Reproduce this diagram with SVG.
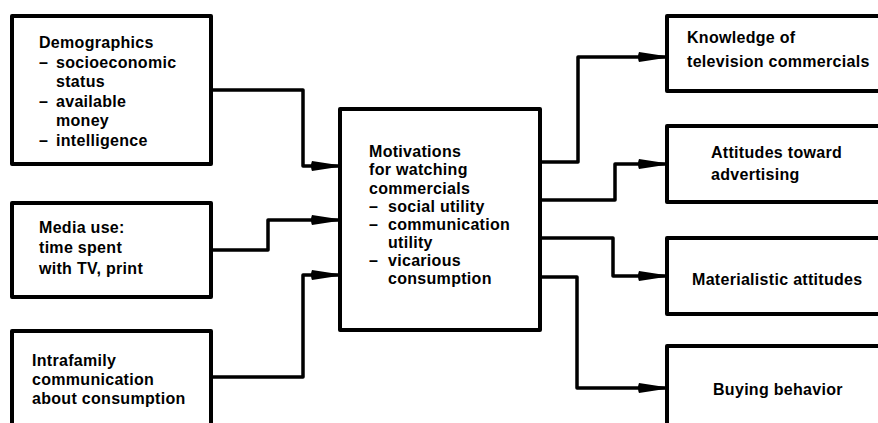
<svg xmlns="http://www.w3.org/2000/svg" width="878" height="423" viewBox="0 0 878 423">
<defs>
<style>
.box{fill:#fff;stroke:#000;stroke-width:4;stroke-linejoin:round}
.con{fill:none;stroke:#000;stroke-width:3.5;stroke-linejoin:round}
text{font-family:"Liberation Sans",Arial,sans-serif;font-weight:bold;font-size:16px;letter-spacing:0.3px;fill:#000}
</style>
<marker id="ah" markerUnits="userSpaceOnUse" viewBox="-27 -6 28 12" refX="0" refY="0" markerWidth="28" markerHeight="12" orient="auto">
<path d="M-26,-5 L0,-1 L0,1 L-26,5 Q-28,0 -26,-5 z" fill="#000"/>
</marker>
</defs>
<rect width="878" height="423" fill="#fff"/>
<g id="connectors">
<path class="con" d="M211,90 H303 V166 H338" marker-end="url(#ah)"/>
<path class="con" d="M211,250 H268 V220 H338" marker-end="url(#ah)"/>
<path class="con" d="M211,377 H303 V275 H338" marker-end="url(#ah)"/>
<path class="con" d="M540,162 H578 V57 H665" marker-end="url(#ah)"/>
<path class="con" d="M540,200 H615 V164 H665" marker-end="url(#ah)"/>
<path class="con" d="M540,238 H613 V276 H665" marker-end="url(#ah)"/>
<path class="con" d="M540,277 H577 V388 H665" marker-end="url(#ah)"/>
</g>
<g id="demographics">
<rect class="box" x="12" y="16" width="199" height="148"/>
<text x="39" y="48">Demographics</text>
<text x="39" y="68">– <tspan x="56">socioeconomic</tspan></text>
<text x="56" y="87">status</text>
<text x="39" y="107">– <tspan x="56">available</tspan></text>
<text x="56" y="126">money</text>
<text x="39" y="146">– <tspan x="56">intelligence</tspan></text>
</g>
<g id="media-use">
<rect class="box" x="12" y="203" width="199" height="94"/>
<text x="39" y="233">Media use:</text>
<text x="39" y="253">time spent</text>
<text x="39" y="274">with TV, print</text>
</g>
<g id="intrafamily">
<rect class="box" x="12" y="331" width="199" height="110"/>
<text x="32" y="366">Intrafamily</text>
<text x="32" y="385">communication</text>
<text x="32" y="404">about consumption</text>
</g>
<g id="motivations">
<rect class="box" x="340" y="109" width="200" height="221"/>
<text x="369" y="157">Motivations</text>
<text x="369" y="175">for watching</text>
<text x="369" y="194">commercials</text>
<text x="369" y="212">– <tspan x="388">social utility</tspan></text>
<text x="369" y="230">– <tspan x="388">communication</tspan></text>
<text x="388" y="248">utility</text>
<text x="369" y="266">– <tspan x="388">vicarious</tspan></text>
<text x="388" y="284">consumption</text>
</g>
<g id="knowledge">
<rect class="box" x="667" y="16" width="230" height="75"/>
<text x="687" y="43">Knowledge of</text>
<text x="687" y="67">television commercials</text>
</g>
<g id="attitudes">
<rect class="box" x="667" y="126" width="230" height="76"/>
<text x="711" y="158">Attitudes toward</text>
<text x="711" y="180">advertising</text>
</g>
<g id="materialistic">
<rect class="box" x="667" y="238" width="230" height="76"/>
<text x="692" y="285">Materialistic attitudes</text>
</g>
<g id="buying">
<rect class="box" x="667" y="346" width="230" height="110"/>
<text x="713" y="395">Buying behavior</text>
</g>
</svg>
